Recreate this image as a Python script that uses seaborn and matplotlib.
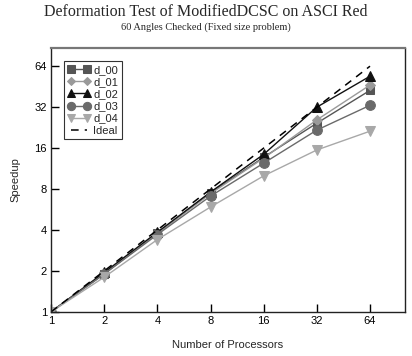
import numpy as np
import pandas as pd
import matplotlib
matplotlib.use('Agg')
import matplotlib.pyplot as plt
import seaborn as sns

procs = [1, 2, 4, 8, 16, 32, 64]
d_00 = [1.0, 1.9, 3.8, 7.5, 13.7, 24.4, 42.5]
d_01 = [1.0, 1.9, 3.8, 7.4, 13.5, 25.8, 46.5]
d_02 = [1.0, 1.95, 3.85, 7.6, 14.4, 32.0, 54.0]
d_03 = [1.0, 1.9, 3.7, 7.1, 12.4, 21.7, 33.0]
d_04 = [1.0, 1.8, 3.4, 5.9, 10.0, 15.5, 21.3]
ideal = [1, 2, 4, 8, 16, 32, 64]

series = {'d_00': d_00, 'd_01': d_01, 'd_02': d_02, 'd_03': d_03, 'd_04': d_04}
colors = {'d_00': '#555555', 'd_01': '#9a9a9a', 'd_02': '#111111',
          'd_03': '#6a6a6a', 'd_04': '#a8a8a8'}
markers = {'d_00': 's', 'd_01': 'D', 'd_02': '^', 'd_03': 'o', 'd_04': 'v'}
msizes = {'d_00': 6, 'd_01': 5, 'd_02': 7, 'd_03': 7, 'd_04': 7}

sns.set_style('white')
plt.rcParams['font.family'] = ['Liberation Sans', 'DejaVu Sans']

fig = plt.figure(figsize=(4.12, 3.56), dpi=100)
ax = fig.add_axes([0.124, 0.124, 0.859, 0.741])

for name, vals in series.items():
    df = pd.DataFrame({'procs': procs, 'speedup': vals})
    sns.lineplot(data=df, x='procs', y='speedup', ax=ax, color=colors[name],
                 marker=markers[name], markersize=msizes[name],
                 markeredgecolor=colors[name], linewidth=1.0, label=name)

sns.lineplot(x=procs, y=ideal, ax=ax, color='black', linestyle=(0, (5, 4)),
             linewidth=1.1, label='Ideal')

ax.set_xscale('log', base=2)
ax.set_yscale('log', base=2)
ax.set_xlim(1, 101)
ax.set_ylim(1, 87)
ax.set_xticks(procs)
ax.set_xticklabels([str(p) for p in procs])
ax.set_yticks([1, 2, 4, 8, 16, 32, 64])
ax.set_yticklabels(['1', '2', '4', '8', '16', '32', '64'])
ax.minorticks_off()
ax.tick_params(direction='in', length=6, width=1, labelsize=8, colors='black',
               bottom=True, left=True, top=False, right=False, pad=3)

for s in ax.spines.values():
    s.set_color('#222222')
    s.set_linewidth(1.0)
ax.spines['top'].set_color('#777777')
ax.spines['top'].set_linewidth(1.6)

ax.set_xlabel('Number of Processors', fontsize=8, labelpad=10)
ax.set_ylabel('Speedup', fontsize=8, labelpad=10)

leg = ax.legend(loc='upper left', fontsize=8, frameon=True, fancybox=False,
                numpoints=2, markerscale=0.85,
                borderpad=0.3, labelspacing=0.2, handlelength=2.0,
                handletextpad=0.3, borderaxespad=1.2)
leg.get_frame().set_edgecolor('black')
leg.get_frame().set_linewidth(0.8)

fig.text(0.5, 0.965, 'Deformation Test of ModifiedDCSC on ASCI Red',
         ha='center', va='center', fontsize=11.5, family='Liberation Serif')
fig.text(0.5, 0.925, '60 Angles Checked (Fixed size problem)',
         ha='center', va='center', fontsize=7.5, family='Liberation Serif')

fig.savefig('out.png', dpi=100)
